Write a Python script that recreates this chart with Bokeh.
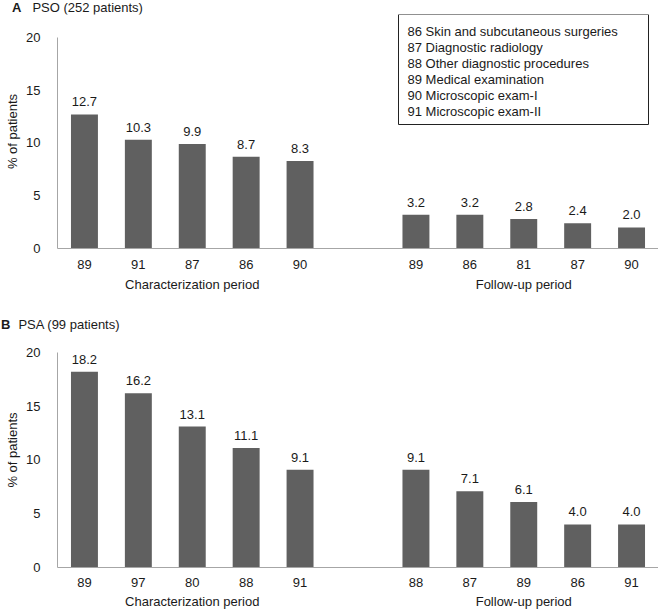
from bokeh.plotting import figure
from bokeh.models import FactorRange, Range1d, FixedTicker, Label, BoxAnnotation, ColumnDataSource, Div
from bokeh.layouts import column
from bokeh.core.properties import value
from bokeh.embed import file_html
from bokeh.resources import INLINE

# ---------------- data ----------------
PERIODS = ["Characterization period", "Follow-up period"]

A_TITLE_LETTER = "A"
A_TITLE = "PSO (252 patients)"
A_CHAR_CODES = ["89", "91", "87", "86", "90"]
A_CHAR_VALS = [12.7, 10.3, 9.9, 8.7, 8.3]
A_FU_CODES = ["89", "86", "81", "87", "90"]
A_FU_VALS = [3.2, 3.2, 2.8, 2.4, 2.0]

B_TITLE_LETTER = "B"
B_TITLE = "PSA (99 patients)"
B_CHAR_CODES = ["89", "97", "80", "88", "91"]
B_CHAR_VALS = [18.2, 16.2, 13.1, 11.1, 9.1]
B_FU_CODES = ["88", "87", "89", "86", "91"]
B_FU_VALS = [9.1, 7.1, 6.1, 4.0, 4.0]

Y_TICKS = [0, 5, 10, 15, 20]
Y_LABEL = "% of patients"

LEGEND_LINES = [
    "86 Skin and subcutaneous surgeries",
    "87 Diagnostic radiology",
    "88 Other diagnostic procedures",
    "89 Medical examination",
    "90 Microscopic exam-I",
    "91 Microscopic exam-II",
]

FONT = "Liberation Sans"
FONT_V = value(FONT)
TXT = "#1a1a1a"
BAR = "#606060"
AXIS = "#a6a6a6"
W = 658


def title_div(letter, title, height, pad_top, letter_left, gap):
    html = ('<span style="font-weight:bold;">%s</span>'
            '<span style="margin-left:%dpx;">%s</span>' % (letter, gap, title))
    return Div(text=html, width=W, height=height, margin=0,
               styles={"font-family": FONT, "font-size": "13px", "color": TXT,
                       "line-height": "14px", "padding-top": "%dpx" % pad_top,
                       "padding-left": "%dpx" % letter_left,
                       "box-sizing": "border-box"})


def make_panel(cc, cv, fc, fv, y_top, height, bottom_border, x_standoff):
    factors = [(PERIODS[0], c) for c in cc] + [(PERIODS[1], c) for c in fc]
    vals = list(cv) + list(fv)
    src = ColumnDataSource(dict(x=factors, top=vals,
                                lab=["%.1f" % v for v in vals]))
    p = figure(width=W, height=height, output_backend="svg",
               toolbar_location=None, title=None,
               x_range=FactorRange(*factors, factor_padding=0,
                                   group_padding=1.15, range_padding=0),
               y_range=Range1d(0, y_top),
               min_border_left=57, min_border_right=0, min_border_top=0,
               min_border_bottom=bottom_border)
    p.outline_line_color = None
    p.xgrid.visible = False
    p.ygrid.visible = False

    p.vbar(x="x", top="top", width=0.5, source=src, fill_color=BAR,
           line_color=None)
    p.text(x="x", y="top", text="lab", source=src, text_align="center",
           text_baseline="bottom", y_offset=-8, text_font=FONT_V,
           text_font_size="13px", text_color=TXT)

    ya = p.yaxis[0]
    ya.ticker = FixedTicker(ticks=Y_TICKS)
    ya.bounds = (0, 20)
    ya.axis_line_color = AXIS
    ya.major_tick_line_color = None
    ya.minor_tick_line_color = None
    ya.major_label_standoff = 11
    ya.major_label_text_font = FONT
    ya.major_label_text_font_size = "13px"
    ya.major_label_text_color = TXT
    ya.axis_label = Y_LABEL
    ya.axis_label_text_font = FONT
    ya.axis_label_text_font_size = "13px"
    ya.axis_label_text_font_style = "normal"
    ya.axis_label_text_color = TXT
    ya.axis_label_standoff = 3

    xa = p.xaxis[0]
    xa.axis_line_color = AXIS
    xa.major_tick_line_color = None
    xa.minor_tick_line_color = None
    xa.major_label_standoff = x_standoff
    xa.major_label_text_font = FONT
    xa.major_label_text_font_size = "13px"
    xa.major_label_text_color = TXT
    xa.group_text_font = FONT
    xa.group_text_font_size = "13px"
    xa.group_text_font_style = "normal"
    xa.group_text_color = TXT
    xa.separator_line_color = None
    return p


divA = title_div(A_TITLE_LETTER, A_TITLE, height=14, pad_top=1,
                 letter_left=12, gap=11)
pA = make_panel(A_CHAR_CODES, A_CHAR_VALS, A_FU_CODES, A_FU_VALS,
                y_top=22.17, height=280, bottom_border=45, x_standoff=5)

divB = title_div(B_TITLE_LETTER, B_TITLE, height=38, pad_top=24,
                 letter_left=1, gap=8)
pB = make_panel(B_CHAR_CODES, B_CHAR_VALS, B_FU_CODES, B_FU_VALS,
                y_top=21.85, height=279, bottom_border=43, x_standoff=4)

# legend box inside panel A (screen units relative to the frame)
pA.add_layout(BoxAnnotation(left=341, right=591, top=234, bottom=124,
                            left_units="screen", right_units="screen",
                            top_units="screen", bottom_units="screen",
                            fill_color=None, fill_alpha=0,
                            line_color="#222222", line_alpha=1.0, line_width=1))
for i, line in enumerate(LEGEND_LINES):
    pA.add_layout(Label(x=350, y=217 - 16 * i, x_units="screen", y_units="screen",
                        text=line, text_font=FONT, text_font_size="13px",
                        text_color=TXT, text_baseline="middle"))

layout = column(divA, pA, divB, pB, spacing=0)
open("out.html", "w").write(file_html(layout, INLINE))
